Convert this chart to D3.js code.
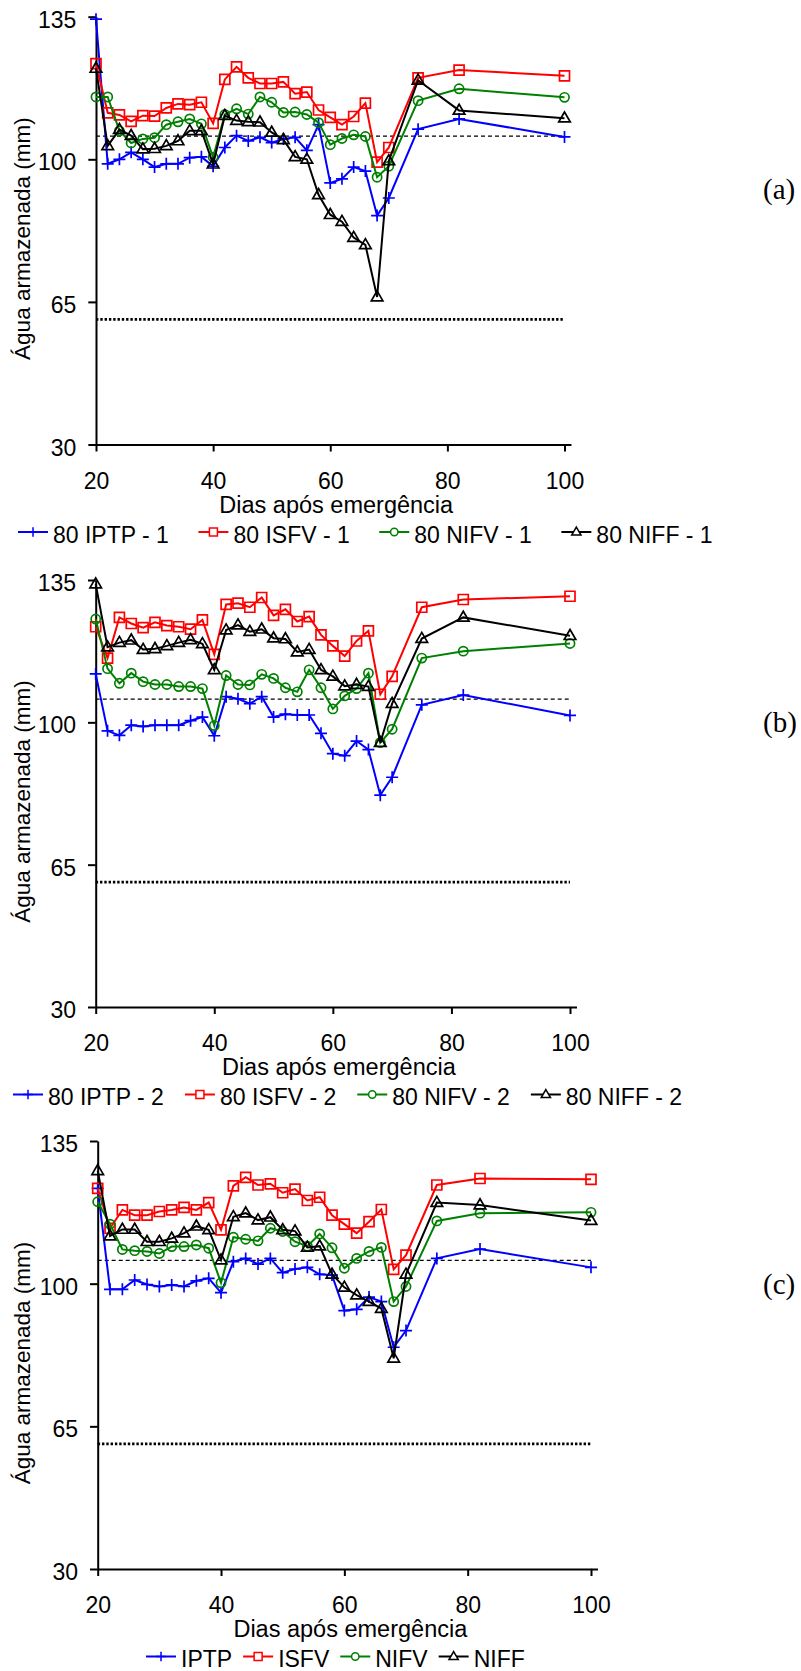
<!DOCTYPE html>
<html><head><meta charset="utf-8">
<script src="https://cdn.jsdelivr.net/npm/d3@7"></script>
<style>
html,body{margin:0;padding:0;background:#fff;}
svg{display:block;font-family:"Liberation Sans",Arial,sans-serif;}
</style></head><body>
<svg id="chart" width="801" height="1671"></svg>
<script>
// ---- data ----
const days = [20,22,24,26,28,30,32,34,36,38,40,42,44,46,48,50,52,54,56,58,60,62,64,66,68,70,75,82,100];
const yTicks = [30,65,100,135];
const xTicks = [20,40,60,80,100];
const refUpper = 105.7;   // thin dashed line
const refLower = 60.7;    // thick dotted line

const iptp1 = [134.4,98.9,100.0,101.7,100.0,98.1,98.9,98.9,100.4,100.6,98.3,102.9,105.8,104.5,105.4,104.1,105.0,105.4,102.2,108.5,94.2,95.2,98.1,97.1,86.2,90.5,107.4,109.9,105.5];
const isfv1 = [123.5,111.4,110.9,109.3,110.7,110.6,112.6,113.6,113.4,114.0,108.8,119.6,122.7,120.0,118.6,118.6,119.0,116.1,116.5,112.1,110.3,108.5,110.5,113.8,99.3,102.9,120.0,121.9,120.5];
const nifv1 = [115.3,115.3,107.0,104.0,105.0,105.3,108.5,109.2,109.9,108.7,100.5,111.0,112.4,111.1,115.3,114.0,111.5,111.6,111.0,109.0,103.6,105.1,106.0,105.6,95.6,98.3,114.4,117.3,115.2];
const niff1 = [122.3,103.3,107.3,105.8,102.5,102.6,103.3,104.5,107.0,107.0,98.8,110.7,109.5,109.2,109.1,106.6,104.8,100.6,100.0,91.3,86.4,84.7,80.8,79.0,66.2,99.6,119.4,112.0,110.1];

const iptp2 = [111.9,97.9,96.8,99.3,99.0,99.3,99.3,99.3,100.4,101.3,96.7,106.3,105.8,104.6,106.3,101.3,102.0,101.8,101.8,97.3,92.3,91.8,95.4,93.3,82.1,86.5,104.3,106.7,101.7];
const isfv2 = [123.5,115.8,125.8,124.3,123.3,124.6,123.8,123.5,122.9,125.2,116.7,129.0,129.3,128.3,130.7,126.3,127.8,124.8,126.0,121.5,118.8,116.3,120.0,122.5,106.9,111.3,128.3,130.2,131.0];
const nifv2 = [125.4,113.2,109.6,112.1,110.0,109.3,109.3,108.8,108.8,108.3,99.2,111.5,109.3,109.2,111.8,110.8,108.5,107.5,112.9,108.5,103.3,106.5,108.3,112.1,95.0,98.3,115.8,117.5,119.4];
const niff2 = [134.0,118.5,119.6,120.2,117.9,118.1,118.8,119.6,120.3,119.3,112.9,122.7,123.9,122.3,122.9,120.7,120.5,117.3,117.9,112.9,111.3,108.9,109.3,108.8,95.0,104.6,120.6,125.8,121.3];

const iptp3 = [123.4,98.6,98.6,100.9,99.8,99.3,99.7,99.3,100.7,101.3,97.8,105.4,106.2,104.8,106.2,102.7,103.6,104.0,102.3,102.1,93.4,93.7,96.7,95.6,84.4,88.5,106.2,108.5,104.0];
const isfv3 = [123.4,113.6,118.1,116.8,116.8,117.7,118.1,118.7,118.1,119.9,113.2,124.0,126.1,124.2,124.5,122.3,123.2,120.4,121.2,116.8,114.6,112.4,115.2,118.2,103.5,107.0,124.2,125.8,125.6];
const nifv3 = [120.1,114.6,108.4,108.1,107.9,107.4,109.1,109.1,109.5,108.7,100.2,111.4,110.9,110.5,113.6,112.8,110.3,109.2,112.2,108.8,103.8,106.2,107.9,108.9,95.6,99.3,115.4,117.3,117.5];
const niff3 = [127.7,111.7,113.3,113.3,110.3,110.3,111.1,112.4,114.1,113.2,105.8,116.4,117.3,115.6,116.3,113.2,112.9,108.9,109.2,102.3,99.1,97.2,95.6,93.9,81.7,102.3,119.9,119.3,115.5];

const namesA = ["80 IPTP - 1","80 ISFV - 1","80 NIFV - 1","80 NIFF - 1"];
const namesB = ["80 IPTP - 2","80 ISFV - 2","80 NIFV - 2","80 NIFF - 2"];
const namesC = ["IPTP","ISFV","NIFV","NIFF"];
const panelLabels = ["(a)","(b)","(c)"];
const yTitle = "Água armazenada (mm)";
const xTitle = "Dias após emergência";

// ---- styles ----
const colors = ["#0000ff","#ff0000","#008000","#000000"];
const shapes = ["plus","square","circle","triangle"];

const panels = [
  {label:panelLabels[0], names:namesA, data:[iptp1,isfv1,nifv1,niff1], top:16.7, bot:444.5, x0:96, x1:564.5, legX:18, legGap:29.5, labY:199},
  {label:panelLabels[1], names:namesB, data:[iptp2,isfv2,nifv2,niff2], top:580, bot:1007, x0:95.7, x1:570, legX:13, legGap:21, labY:732},
  {label:panelLabels[2], names:namesC, data:[iptp3,isfv3,nifv3,niff3], top:1141, bot:1569, x0:97.7, x1:591, legX:146, legGap:11, labY:1294}
];

function markerPath(shape, s) {
  switch (shape) {
    case "plus": return `M${-6*s},0H${6*s}M0,${-6*s}V${6*s}`;
    case "square": return `M${-5*s},${-5*s}H${5*s}V${5*s}H${-5*s}Z`;
    case "circle": { const r = 4.6*s; return `M${r},0A${r},${r} 0 1,1 ${-r},0A${r},${r} 0 1,1 ${r},0Z`; }
    case "triangle": return `M0,${-6.2*s}L${5.8*s},${3.8*s}L${-5.8*s},${3.8*s}Z`;
  }
}

const svg = d3.select("#chart");

panels.forEach(p => {
  const g = svg.append("g");
  const x = d3.scaleLinear().domain([20,100]).range([p.x0, p.x1]);
  const y = d3.scaleLinear().domain([30,135]).range([p.bot, p.top]);

  // reference lines
  g.append("line").attr("x1", x(20)).attr("x2", x(100))
    .attr("y1", y(refUpper)).attr("y2", y(refUpper))
    .attr("stroke", "#000").attr("stroke-width", 1.2).attr("stroke-dasharray", "4,3");
  g.append("line").attr("x1", x(20)).attr("x2", x(100))
    .attr("y1", y(refLower)).attr("y2", y(refLower))
    .attr("stroke", "#000").attr("stroke-width", 2.8).attr("stroke-dasharray", "2.4,1.9");

  // axes
  const ya = g.append("g").attr("transform", `translate(${p.x0},0)`)
    .call(d3.axisLeft(y).tickValues(yTicks).tickSize(7.7).tickSizeOuter(0).tickPadding(12));
  const xa = g.append("g").attr("transform", `translate(0,${p.bot})`)
    .call(d3.axisBottom(x).tickValues(xTicks).tickSize(7).tickSizeOuter(0).tickPadding(20.7));
  [ya, xa].forEach(a => {
    a.select(".domain").attr("stroke", "#000").attr("stroke-width", 2);
    a.selectAll(".tick line").attr("stroke", "#000").attr("stroke-width", 2);
    a.selectAll(".tick text").attr("fill", "#000").style("font-size", "23px")
      .style("font-family", '"Liberation Sans", Arial, sans-serif');
  });
  ya.selectAll(".tick text").attr("dy", "0.46em");
  g.append("line").attr("x1", x(100)).attr("x2", x(100) + 7)
    .attr("y1", p.bot + 0.5).attr("y2", p.bot + 0.5)
    .attr("stroke", "#000").attr("stroke-width", 2);

  // series
  p.data.forEach((vals, i) => {
    const pts = days.map((d, k) => [d, vals[k]]);
    g.append("path").datum(pts)
      .attr("fill", "none").attr("stroke", colors[i]).attr("stroke-width", 2)
      .attr("d", d3.line().x(d => x(d[0])).y(d => y(d[1])));
    g.append("g").selectAll("path").data(pts).join("path")
      .attr("transform", d => `translate(${x(d[0])},${y(d[1])})`)
      .attr("d", markerPath(shapes[i], 1))
      .attr("fill", "none").attr("stroke", colors[i]).attr("stroke-width", 1.7);
  });

  // axis titles
  g.append("text")
    .attr("transform", `translate(30,${(p.top + p.bot) / 2 + 8}) rotate(-90)`)
    .attr("text-anchor", "middle").style("font-size", "22.5px").attr("fill", "#000")
    .text(yTitle);
  g.append("text")
    .attr("x", (p.x0 + p.x1) / 2 + 6).attr("y", p.bot + 68)
    .attr("text-anchor", "middle").style("font-size", "23.5px").attr("fill", "#000")
    .text(xTitle);

  // legend
  let lx = p.legX;
  const ly = p.bot + 98;
  p.names.forEach((nm, i) => {
    const it = g.append("g");
    it.append("line").attr("x1", lx).attr("x2", lx + 30)
      .attr("y1", ly - 10.5).attr("y2", ly - 10.5)
      .attr("stroke", colors[i]).attr("stroke-width", 2);
    it.append("path").attr("transform", `translate(${lx + 15},${ly - 10.5})`)
      .attr("d", markerPath(shapes[i], 0.8))
      .attr("fill", "#fff").attr("stroke", colors[i]).attr("stroke-width", 1.5);
    const t = it.append("text").attr("x", lx + 35).attr("y", ly)
      .style("font-size", "23px").attr("fill", "#000").text(nm);
    lx += 35 + t.node().getComputedTextLength() + p.legGap;
  });

  // panel label
  g.append("text").attr("x", 763).attr("y", p.labY)
    .style("font-family", '"Liberation Serif", "Times New Roman", serif')
    .style("font-size", "29px").attr("fill", "#000").text(p.label);
});
</script>
</body></html>
